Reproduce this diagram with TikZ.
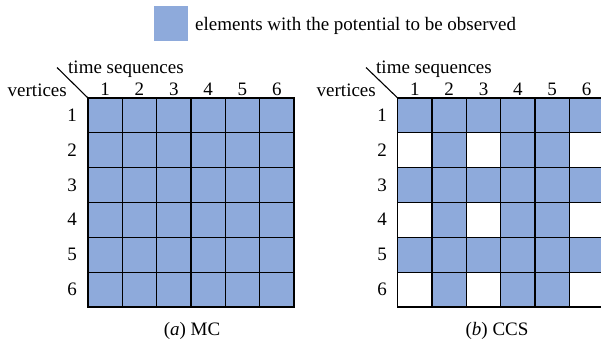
\documentclass[tikz,border=0pt]{standalone}
\usepackage{fontspec}
\setmainfont{Liberation Serif}
\definecolor{obs}{HTML}{8EAADB}
\begin{document}
\begin{tikzpicture}[x=1pt,y=-1pt,
  lbl/.style={inner sep=0pt,font=\fontsize{19}{21}\selectfont},
  cellfill/.style={fill=obs,draw=black,line width=1.2pt},
  cellempty/.style={fill=white,draw=black,line width=1.2pt}]
\clip (0,0) rectangle (601,341);
\fill[white] (0,0) rectangle (601,341);
% legend
\node[fill=obs,minimum width=33.5pt,minimum height=34.7pt,inner sep=0pt,anchor=north west] (leg) at (154,6) {};
\node[lbl,anchor=base west] (legtxt) at (195,30.5) {elements with the potential to be observed};
% ---------- left grid (MC)
\def\cw{34.33}\def\ch{34.83}
\foreach \r in {1,...,6}{
  \foreach \c in {1,...,6}{
    \draw[cellfill] ({88+(\c-1)*\cw},{98+(\r-1)*\ch}) rectangle ++(\cw,\ch);
  }
}
\coordinate (Lc) at (88,98);
\coordinate (Ld) at (57,67.5);
\draw[line width=1.1pt] (Ld) -- (Lc);
\node[lbl,anchor=base west] (Lts) at (68,73.5) {time sequences};
\node[lbl,anchor=base east] (Lv) at (67,96.7) {vertices};
\foreach \c in {1,...,6}{
  \node[lbl,anchor=base] (Lcol\c) at ({88+(\c-0.5)*\cw},95) {\c};
}
\foreach \r in {1,...,6}{
  \node[lbl,anchor=base] (Lrow\r) at (72,{98+(\r-0.5)*\ch+6}) {\r};
}
\node[lbl,anchor=base] (capa) at (192,335) {(\textit{a}) MC};
% ---------- right grid (CCS)
\foreach \r in {1,...,6}{
  \foreach \c in {1,...,6}{
    \pgfmathtruncatemacro{\odd}{mod(\r,2)}
    \pgfmathtruncatemacro{\full}{(\odd==1) || (\c==2) || (\c==4) || (\c==5)}
    \ifnum\full=1
      \draw[cellfill] ({397.7+(\c-1)*\cw},{98+(\r-1)*\ch}) rectangle ++(\cw,\ch);
    \else
      \draw[cellempty] ({397.7+(\c-1)*\cw},{98+(\r-1)*\ch}) rectangle ++(\cw,\ch);
    \fi
  }
}
\coordinate (Rc) at (397.7,98);
\coordinate (Rd) at (366,67.5);
\draw[line width=1.1pt] (Rd) -- (Rc);
\node[lbl,anchor=base west] (Rts) at (376,73.5) {time sequences};
\node[lbl,anchor=base east] (Rv) at (376,96.7) {vertices};
\foreach \c in {1,...,6}{
  \node[lbl,anchor=base] (Rcol\c) at ({397.7+(\c-0.5)*\cw},95) {\c};
}
\foreach \r in {1,...,6}{
  \node[lbl,anchor=base] (Rrow\r) at (382,{98+(\r-0.5)*\ch+6}) {\r};
}
\node[lbl,anchor=base] (capb) at (497,335) {(\textit{b}) CCS};
\end{tikzpicture}
\end{document}
